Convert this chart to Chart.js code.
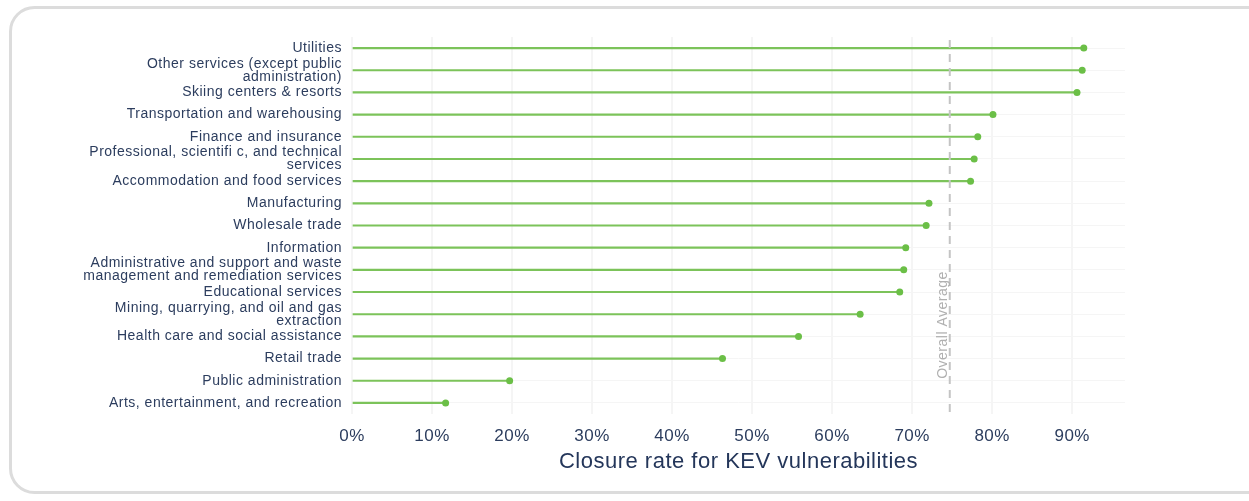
<!DOCTYPE html>
<html><head><meta charset="utf-8">
<script src="https://cdn.jsdelivr.net/npm/chart.js@4.4.1/dist/chart.umd.min.js"></script>
<style>html,body{margin:0;padding:0;background:#fff;}#wrap{width:1249px;height:501px;position:relative;}</style>
</head><body><div id="wrap"><canvas id="c" width="1249" height="501"></canvas></div>
<script>
const categories = [
  ["Utilities"],
  ["Other services (except public","administration)"],
  ["Skiing centers & resorts"],
  ["Transportation and warehousing"],
  ["Finance and insurance"],
  ["Professional, scientifi c, and technical","services"],
  ["Accommodation and food services"],
  ["Manufacturing"],
  ["Wholesale trade"],
  ["Information"],
  ["Administrative and support and waste","management and remediation services"],
  ["Educational services"],
  ["Mining, quarrying, and oil and gas","extraction"],
  ["Health care and social assistance"],
  ["Retail trade"],
  ["Public administration"],
  ["Arts, entertainment, and recreation"]
];
const closureRate = [91.45, 91.25, 90.6, 80.1, 78.2, 77.75, 77.3, 72.1, 71.75, 69.2, 68.95, 68.45, 63.5, 55.8, 46.3, 19.7, 11.7];
const overallAverage = 74.7;
const xTicks = [0,10,20,30,40,50,60,70,80,90];
const FONT = '"Liberation Sans", Arial, sans-serif';

const frame = {
  id:'frame',
  beforeDraw(chart){
    const ctx = chart.ctx;
    ctx.save();
    ctx.strokeStyle = '#dcdcdc';
    ctx.lineWidth = 3;
    ctx.beginPath();
    ctx.roundRect(10.5, 7.5, 1270, 485, 24);
    ctx.stroke();
    ctx.restore();
    ctx.letterSpacing = '0.5px';
  }
};
const avgLine = {
  id:'avgLine',
  afterDatasetsDraw(chart){
    const ctx = chart.ctx, x = chart.scales.x.getPixelForValue(overallAverage);
    const a = chart.chartArea;
    ctx.save();
    ctx.strokeStyle = '#c4c4c4';
    ctx.lineWidth = 2;
    ctx.setLineDash([8,6]);
    ctx.beginPath();
    ctx.moveTo(x, a.top+3);
    ctx.lineTo(x, a.bottom);
    ctx.stroke();
    ctx.setLineDash([]);
    ctx.translate(x-7, 325);
    ctx.rotate(-Math.PI/2);
    ctx.fillStyle = '#b0b0b0';
    ctx.font = '14px ' + FONT;
    ctx.textAlign = 'center';
    ctx.textBaseline = 'middle';
    ctx.fillText('Overall Average', 0, 0);
    ctx.restore();
  }
};

new Chart(document.getElementById('c'), {
  type: 'bar',
  data: {
    labels: categories,
    datasets: [
      { type:'line', data: closureRate, showLine:false, pointRadius:3.5, pointHoverRadius:3.5,
        pointBackgroundColor:'#6bbf47', pointBorderColor:'#6bbf47', pointBorderWidth:0, order:0 },
      { type:'bar', data: closureRate, backgroundColor:'#7cc35a', barThickness:1.5, borderWidth:0, order:1 }
    ]
  },
  plugins:[frame, avgLine],
  options: {
    indexAxis:'y',
    responsive:false,
    animation:false,
    events:[],
    layout:{padding:{left:20,right:124,top:37,bottom:22}},
    plugins:{legend:{display:false},tooltip:{enabled:false}},
    scales:{
      x:{
        min:0, max:96.6,
        afterBuildTicks(s){ s.ticks = xTicks.map(v=>({value:v})); },
        afterFit(s){ s.height = 65; },
        grid:{color:'#f5f5f5', lineWidth:2, drawTicks:false},
        border:{display:false},
        ticks:{padding:12, color:'#2c3d5e', font:{family:FONT, size:17}, callback:v=>v+'%'},
        title:{display:true, text:'Closure rate for KEV vulnerabilities', color:'#24365a',
          font:{family:FONT, size:22}, padding:{top:2}}
      },
      y:{
        offset:true,
        afterFit(s){ s.width = 332; },
        grid:{color:'#f5f5f5', lineWidth:1, drawTicks:false, offset:false},
        border:{display:false},
        ticks:{autoSkip:false, padding:10, color:'#2c3d5e', font:{family:FONT, size:14, lineHeight:0.92}}
      }
    }
  }
});
</script></body></html>
